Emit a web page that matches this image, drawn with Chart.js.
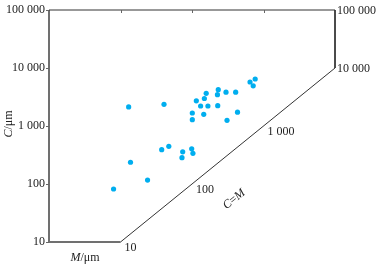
<!DOCTYPE html>
<html>
<head>
<meta charset="utf-8">
<script src="https://cdn.jsdelivr.net/npm/chart.js@4/dist/chart.umd.min.js"></script>
<style>
html,body{margin:0;padding:0;background:#fff;}
#wrap{width:377px;height:267px;}
</style>
</head>
<body>
<div id="wrap"><canvas id="c" width="377" height="267"></canvas></div>
<script>
// Data (M in µm, C in µm)
const mValues = [8.0, 13.0, 13.8, 23.9, 40.6, 37.7, 47.4, 74.1, 72.4, 99, 103, 101, 101, 115, 149, 158, 132, 167, 146, 227, 233, 229, 299, 408, 309, 433, 648, 765, 718];
const cValues = [82, 2130, 237, 117, 2366, 390, 447, 359, 284, 404, 338, 1675, 1285, 2716, 2980, 3664, 2213, 2213, 1592, 3467, 4227, 2239, 3828, 3828, 1254, 1730, 5741, 6457, 4933];

// Frame outline (data coordinates)
const frameOuterM = [1, 1];           // left axis
const frameOuterC = [100000, 10];
const frameBottomM = [1, 10];
const frameBottomC = [10, 10];
const frameTopM = [1, 10000, 10000, 10];   // top, right, diagonal C=M
const frameTopC = [100000, 100000, 10000, 10];

// Tick labels
const leftTicks = [10, 100, 1000, 10000, 100000];
const topTicks = [10, 100, 1000];
const rightTicks = [10000, 100000];
const diagTicks = [10, 100, 1000];

function fmt(v){ return String(v).replace(/\B(?=(\d{3})+(?!\d))/g, ' '); }
function pts(xs, ys){ return xs.map((x,i)=>({x:x, y:ys[i]})); }

const FONT = '"Liberation Serif", "Times New Roman", serif';

const labelsPlugin = {
  id: 'labels',
  afterDraw(chart){
    const ctx = chart.ctx, xs = chart.scales.x, ys = chart.scales.y;
    const X = v => xs.getPixelForValue(v), Y = v => ys.getPixelForValue(v);
    ctx.save();
    ctx.fillStyle = '#222';
    ctx.font = '12px ' + FONT;
    ctx.textBaseline = 'middle';
    // left ticks + labels
    ctx.strokeStyle = '#666'; ctx.lineWidth = 1;
    const x0 = X(1);
    leftTicks.forEach(v=>{
      const y = Y(v);
      ctx.beginPath(); ctx.moveTo(x0-3, Math.round(y)+0.5); ctx.lineTo(x0, Math.round(y)+0.5); ctx.stroke();
      ctx.textAlign = 'right';
      ctx.fillText(fmt(v), x0-4, y);
    });
    // top ticks
    const yt = Y(100000);
    topTicks.forEach(v=>{
      const x = Math.round(X(v))+0.5;
      ctx.beginPath(); ctx.moveTo(x, yt); ctx.lineTo(x, yt+3); ctx.stroke();
    });
    // right labels
    ctx.textAlign = 'left';
    rightTicks.forEach(v=>{ ctx.fillText(fmt(v), X(10000)+2, Y(v)+1); });
    // diagonal labels
    diagTicks.forEach(v=>{ ctx.fillText(fmt(v), X(v)+4, Y(v)+6); });
    // C=M label
    const ang = Math.atan2(Y(1000)-Y(100), X(1000)-X(100));
    ctx.save();
    ctx.translate(X(300)+8, Y(300)+43);
    ctx.rotate(ang);
    ctx.textAlign = 'left';
    const parts = [['C','italic '],['=',''],['M','italic ']];
    let w = 0;
    parts.forEach(p=>{ ctx.font = p[1]+'12px '+FONT; w += ctx.measureText(p[0]).width; });
    let cx = -w/2;
    parts.forEach(p=>{ ctx.font = p[1]+'12px '+FONT; ctx.fillText(p[0], cx, 0); cx += ctx.measureText(p[0]).width; });
    ctx.restore();
    // axis titles
    function mixed(parts, x, y){
      let w = 0;
      parts.forEach(p=>{ ctx.font = p[1]+'12px '+FONT; w += ctx.measureText(p[0]).width; });
      let cx = x - w/2;
      ctx.textAlign = 'left';
      parts.forEach(p=>{ ctx.font = p[1]+'12px '+FONT; ctx.fillText(p[0], cx, y); cx += ctx.measureText(p[0]).width; });
    }
    mixed([['M','italic '],['/μm','']], 85, 258);
    ctx.save();
    ctx.translate(9, 124);
    ctx.rotate(-Math.PI/2);
    mixed([['C','italic '],['/μm','']], 0, 0);
    ctx.restore();
    ctx.restore();
  }
};

new Chart(document.getElementById('c'), {
  type: 'scatter',
  data: {
    datasets: [
      { data: pts(frameOuterM, frameOuterC), showLine: true, pointRadius: 0, borderColor: '#707070', borderWidth: 2, clip: false, order: 3 },
      { data: pts(frameBottomM, frameBottomC), showLine: true, pointRadius: 0, borderColor: '#707070', borderWidth: 2, clip: false, order: 3 },
      { data: pts(frameTopM, frameTopC), showLine: true, pointRadius: 0, borderColor: '#333', borderWidth: 1, clip: false, order: 2 },
      { data: pts(mValues, cValues), pointRadius: 2.6, pointBackgroundColor: '#00AEEF', pointBorderWidth: 0, borderColor: '#00AEEF', clip: false, order: 1 }
    ]
  },
  options: {
    responsive: false,
    animation: false,
    events: [],
    layout: { padding: { left: 49, right: 42, top: 10, bottom: 25 } },
    plugins: { legend: { display: false }, tooltip: { enabled: false } },
    scales: {
      x: { type: 'logarithmic', min: 1, max: 10000, display: false },
      y: { type: 'logarithmic', min: 10, max: 100000, display: false }
    }
  },
  plugins: [labelsPlugin]
});
</script>
</body>
</html>
